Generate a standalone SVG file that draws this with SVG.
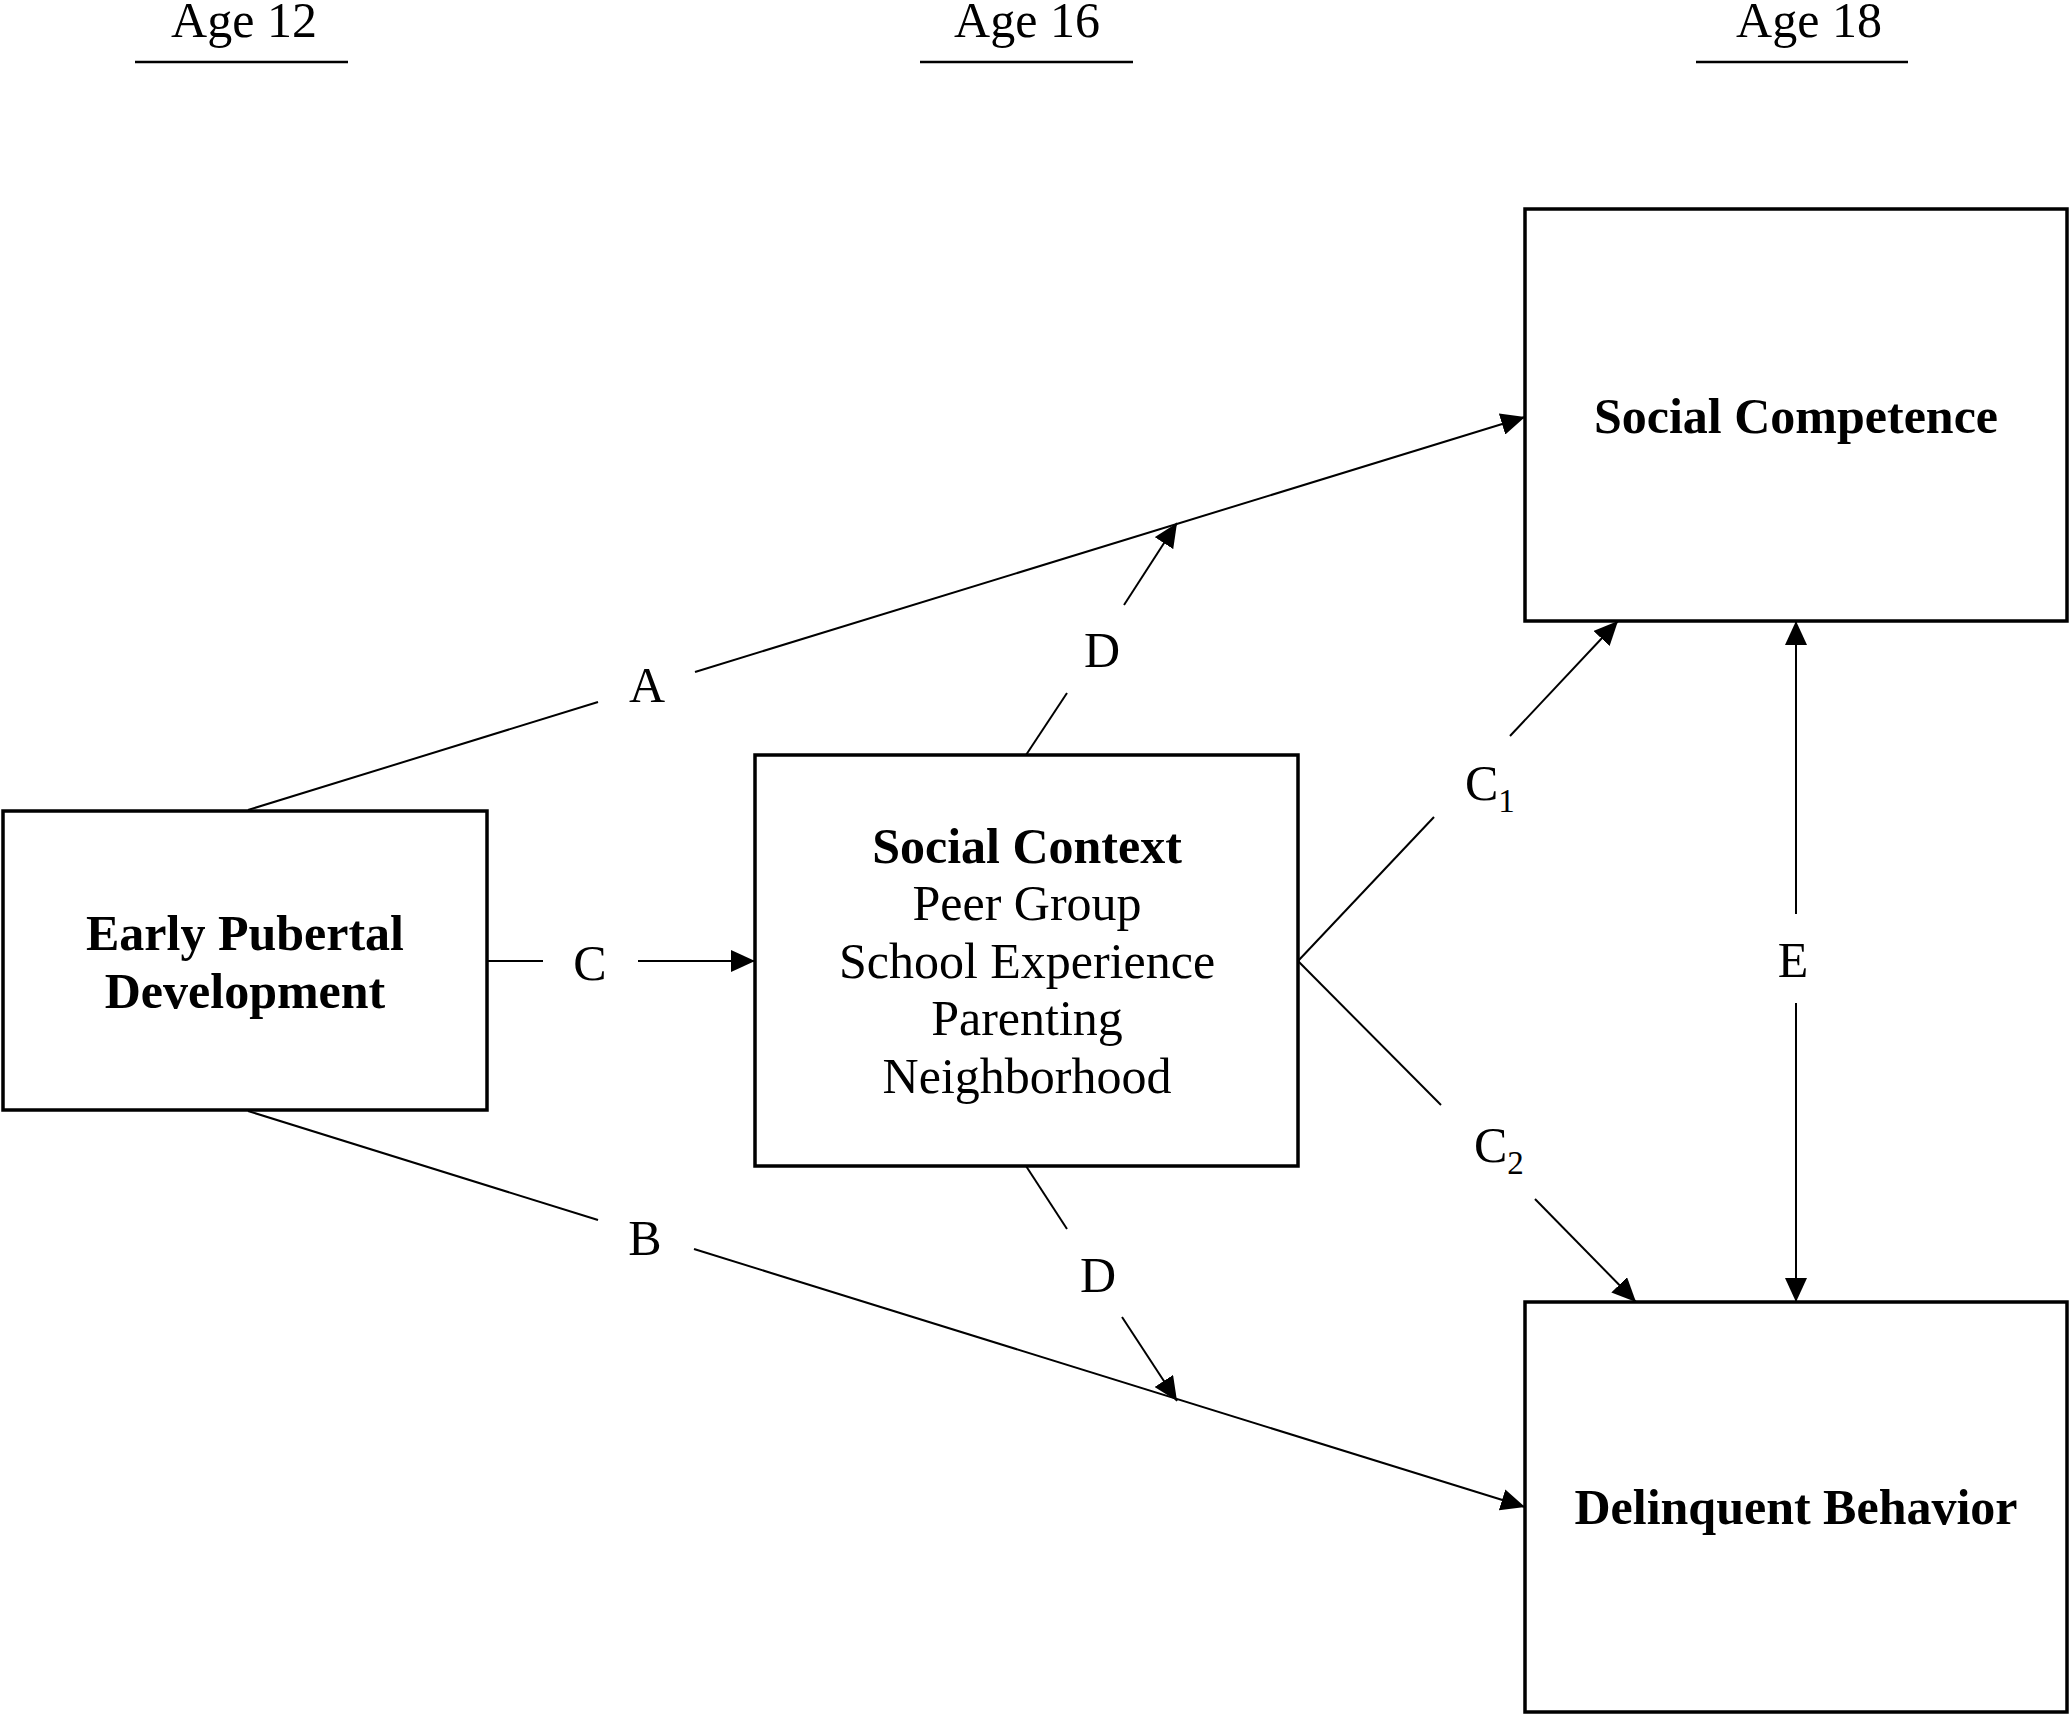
<svg xmlns="http://www.w3.org/2000/svg" width="2070" height="1715" viewBox="0 0 2070 1715">
<style>
  text { font-family: "Liberation Serif", "Times New Roman", serif; fill: #000; }
  .t { font-size: 50px; text-anchor: middle; }
  .b { font-weight: bold; }
  .lbl { font-size: 50px; }
  .sub { font-size: 33px; }
  .box { fill: #fff; stroke: #000; stroke-width: 3.5; }
  .ln { stroke: #000; stroke-width: 2; fill: none; }
  .ul { stroke: #000; stroke-width: 2.5; }
</style>
<defs>
  <marker id="arr" markerUnits="userSpaceOnUse" viewBox="0 0 24 22" refX="24" refY="11" markerWidth="24" markerHeight="22" orient="auto">
    <path d="M0,0 L24,11 L0,22 z" fill="#000"/>
  </marker>
</defs>
<rect width="2070" height="1715" fill="#fff"/>

<g id="age-headers">
  <text class="t" x="244" y="37">Age 12</text>
  <line class="ul" x1="135" y1="62" x2="348" y2="62"/>
  <text class="t" x="1027" y="37">Age 16</text>
  <line class="ul" x1="920" y1="62" x2="1133" y2="62"/>
  <text class="t" x="1809" y="37">Age 18</text>
  <line class="ul" x1="1696" y1="62" x2="1908" y2="62"/>
</g>

<g id="connectors">
  <!-- A -->
  <line class="ln" x1="248" y1="810" x2="598" y2="702"/>
  <line class="ln" x1="695" y1="672" x2="1525" y2="417" marker-end="url(#arr)"/>
  <text class="t" x="647" y="702">A</text>
  <!-- B -->
  <line class="ln" x1="248" y1="1111" x2="598" y2="1220"/>
  <line class="ln" x1="694" y1="1249" x2="1525" y2="1507" marker-end="url(#arr)"/>
  <text class="t" x="645" y="1255">B</text>
  <!-- C -->
  <line class="ln" x1="487" y1="961" x2="543" y2="961"/>
  <line class="ln" x1="638" y1="961" x2="755" y2="961" marker-end="url(#arr)"/>
  <text class="t" x="590" y="980">C</text>
  <!-- D upper -->
  <line class="ln" x1="1026" y1="755" x2="1067" y2="693"/>
  <line class="ln" x1="1124" y1="605" x2="1177" y2="523" marker-end="url(#arr)"/>
  <text class="t" x="1102" y="667">D</text>
  <!-- D lower -->
  <line class="ln" x1="1026" y1="1166" x2="1067" y2="1229"/>
  <line class="ln" x1="1122" y1="1317" x2="1177" y2="1401" marker-end="url(#arr)"/>
  <text class="t" x="1098" y="1292">D</text>
  <!-- C1 -->
  <line class="ln" x1="1298" y1="961" x2="1434" y2="817"/>
  <line class="ln" x1="1510" y1="736" x2="1618" y2="621" marker-end="url(#arr)"/>
  <text class="lbl" x="1465" y="800">C<tspan class="sub" dy="12">1</tspan></text>
  <!-- C2 -->
  <line class="ln" x1="1298" y1="961" x2="1441" y2="1105"/>
  <line class="ln" x1="1535" y1="1199" x2="1636" y2="1302" marker-end="url(#arr)"/>
  <text class="lbl" x="1474" y="1162">C<tspan class="sub" dy="12">2</tspan></text>
  <!-- E -->
  <line class="ln" x1="1796" y1="914" x2="1796" y2="621" marker-end="url(#arr)"/>
  <line class="ln" x1="1796" y1="1003" x2="1796" y2="1302" marker-end="url(#arr)"/>
  <text class="t" x="1793" y="977">E</text>
</g>

<g id="node-early-pubertal">
  <rect class="box" x="3" y="811" width="484" height="299"/>
  <text class="t b" x="245" y="950">Early Pubertal</text>
  <text class="t b" x="245" y="1008">Development</text>
</g>

<g id="node-social-context">
  <rect class="box" x="755" y="755" width="543" height="411"/>
  <text class="t b" x="1027" y="863">Social Context</text>
  <text class="t" x="1027" y="920">Peer Group</text>
  <text class="t" x="1027" y="978">School Experience</text>
  <text class="t" x="1027" y="1035">Parenting</text>
  <text class="t" x="1027" y="1093">Neighborhood</text>
</g>

<g id="node-social-competence">
  <rect class="box" x="1525" y="209" width="542" height="412"/>
  <text class="t b" x="1796" y="433">Social Competence</text>
</g>

<g id="node-delinquent-behavior">
  <rect class="box" x="1525" y="1302" width="542" height="410"/>
  <text class="t b" x="1796" y="1524">Delinquent Behavior</text>
</g>
</svg>
